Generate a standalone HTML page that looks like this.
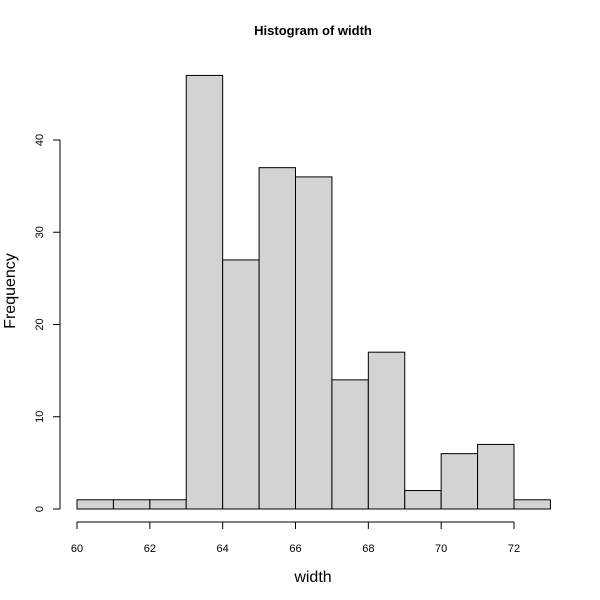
<!DOCTYPE html>
<html><head><meta charset="utf-8"><style>body{margin:0;background:#fff}svg{display:block}text{font-family:"Liberation Sans",sans-serif}</style></head>
<body>
<svg id="c" width="600" height="600" xmlns="http://www.w3.org/2000/svg">
<text x="313" y="35" text-anchor="middle" font-size="13" font-weight="bold">Histogram of width</text>
<text x="313" y="582" text-anchor="middle" font-size="16">width</text>
<text transform="translate(15,291) rotate(-90)" text-anchor="middle" font-size="16">Frequency</text>
<g id="bars"></g><g id="xa"></g><g id="ya"></g>
</svg>
<script>
const binStarts=[60,61,62,63,64,65,66,67,68,69,70,71,72];
const counts=[1,1,1,47,27,37,36,14,17,2,6,7,1];
const xTicks=[60,62,64,66,68,70,72];
const yTicks=[0,10,20,30,40];
const NS="http://www.w3.org/2000/svg";
const x=v=>77+(v-60)*(437/12);
const y=v=>509-v*(369/40);
function mk(t,a,p){const e=document.createElementNS(NS,t);for(const k in a)e.setAttribute(k,a[k]);p.appendChild(e);return e;}
const bars=document.getElementById('bars');
binStarts.forEach((b,i)=>{const r=mk('rect',{x:x(b),y:y(counts[i]),width:x(b+1)-x(b),height:y(0)-y(counts[i]),fill:'#d3d3d3',stroke:'#000','stroke-width':1},bars);

});
const xa=document.getElementById('xa');
const xl=mk('line',{x1:x(xTicks[0]),x2:x(xTicks[xTicks.length-1]),y1:522,y2:522,stroke:'#000'},xa);


xTicks.forEach(t=>{mk('line',{x1:x(t),x2:x(t),y1:522,y2:529,stroke:'#000'},xa);
const tx=mk('text',{x:x(t),y:552,'text-anchor':'middle','font-size':11},xa);tx.textContent=t;

});
const ya=document.getElementById('ya');
const yl=mk('line',{x1:60,x2:60,y1:y(yTicks[0]),y2:y(yTicks[yTicks.length-1]),stroke:'#000'},ya);


yTicks.forEach(t=>{mk('line',{x1:53,x2:60,y1:y(t),y2:y(t),stroke:'#000'},ya);
const tx=mk('text',{transform:`translate(43,${y(t)}) rotate(-90)`,'text-anchor':'middle','font-size':11},ya);tx.textContent=t;

});
</script>
</body></html>
